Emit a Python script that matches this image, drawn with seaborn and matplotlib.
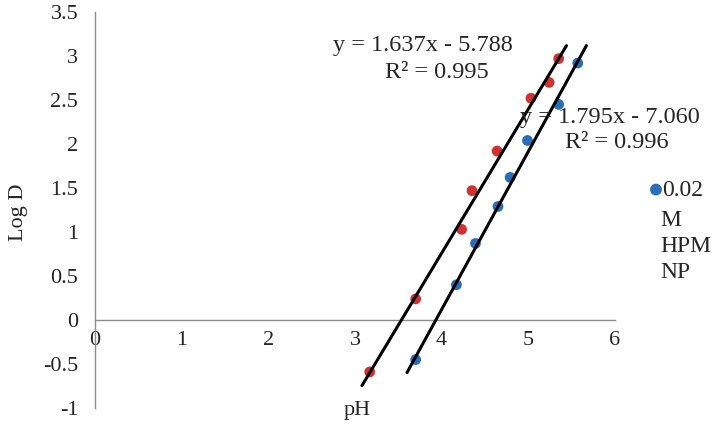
import numpy as np
import pandas as pd
import matplotlib
matplotlib.use('Agg')
import matplotlib.pyplot as plt
import seaborn as sns

# Dane
ph_red = [3.17, 3.70, 4.23, 4.35, 4.64, 5.03, 5.24, 5.35]
logd_red = [-0.59, 0.24, 1.03, 1.47, 1.92, 2.52, 2.70, 2.97]
ph_blue = [3.70, 4.17, 4.39, 4.65, 4.79, 4.99, 5.35, 5.57]
logd_blue = [-0.45, 0.40, 0.87, 1.29, 1.62, 2.04, 2.45, 2.92]

# Linie trendu (z równań na wykresie)
slope_red, icpt_red, r2_red = 1.637, -5.788, 0.995
slope_blue, icpt_blue, r2_blue = 1.795, -7.060, 0.996
xr_red = [3.08, 5.44]
xr_blue = [3.60, 5.67]

x_ticks = [0, 1, 2, 3, 4, 5, 6]
y_ticks = [-1, -0.5, 0, 0.5, 1, 1.5, 2, 2.5, 3, 3.5]
legend_lines = ['0.02', 'M', 'HPM', 'NP']

red = '#D03232'
blue = '#2C6DB8'
grey = '#8C8C8C'

sns.set_style('white')
plt.rcParams['font.family'] = ['Liberation Serif', 'DejaVu Serif']

df_red = pd.DataFrame({'pH': ph_red, 'LogD': logd_red})
df_blue = pd.DataFrame({'pH': ph_blue, 'LogD': logd_blue})
tr_red = pd.DataFrame({'pH': xr_red, 'LogD': [slope_red * x + icpt_red for x in xr_red]})
tr_blue = pd.DataFrame({'pH': xr_blue, 'LogD': [slope_blue * x + icpt_blue for x in xr_blue]})

fig = plt.figure(figsize=(7.2, 4.25), dpi=100)
ax = fig.add_axes([95 / 720, 17 / 425, 520 / 720, 396 / 425])

sns.scatterplot(data=df_red, x='pH', y='LogD', color=red, s=60, edgecolor='none', ax=ax, zorder=3)
sns.scatterplot(data=df_blue, x='pH', y='LogD', color=blue, s=60, edgecolor='none', ax=ax, zorder=3,
                label=legend_lines[0])
sns.lineplot(data=tr_red, x='pH', y='LogD', color='black', lw=2.2, ax=ax, zorder=4)
sns.lineplot(data=tr_blue, x='pH', y='LogD', color='black', lw=2.2, ax=ax, zorder=4)

ax.set_xlim(0, 6)
ax.set_ylim(-1, 3.5)
ax.set_xticks(x_ticks)
ax.set_yticks(y_ticks)
ax.set_yticklabels([f'{v:g}' for v in y_ticks])
ax.set_xlabel('')
ax.set_ylabel('')

for s in ['top', 'right']:
    ax.spines[s].set_visible(False)
ax.spines['bottom'].set_position(('data', 0))
for s in ['left', 'bottom']:
    ax.spines[s].set_color(grey)
    ax.spines[s].set_linewidth(1)
ax.tick_params(axis='x', direction='in', length=5, color=grey, pad=8, labelsize=16)
ax.tick_params(axis='y', direction='out', length=6, color=grey, pad=6, labelsize=16)

# Równania trendu
fs_eq = 17.5
fig.text(333 / 720, 1 - 45 / 425, f'y = {slope_red:.3f}x - {abs(icpt_red):.3f}', fontsize=fs_eq, va='center')
fig.text(385 / 720, 1 - 73 / 425, f'R² = {r2_red:.3f}', fontsize=fs_eq, va='center')
fig.text(520 / 720, 1 - 117 / 425, f'y = {slope_blue:.3f}x - {abs(icpt_blue):.3f}', fontsize=fs_eq, va='center')
fig.text(565 / 720, 1 - 143 / 425, f'R² = {r2_blue:.3f}', fontsize=fs_eq, va='center')

fig.text(357 / 720, 1 - 410 / 425, 'pH', fontsize=16, ha='center', va='center')
fig.text(18 / 720, 1 - 212 / 425, 'Log D', fontsize=16, ha='center', va='center', rotation=90)

# Legenda: znacznik przy pierwszej linii, reszta tekstu pod spodem
leg = ax.legend(loc='center left', bbox_to_anchor=(630 / 720, 1 - 190 / 425), bbox_transform=fig.transFigure,
                frameon=False, fontsize=17, handletextpad=-0.35, handlelength=1.2, borderpad=0,
                markerscale=1.1)
for i, line in enumerate(legend_lines[1:]):
    fig.text(660 / 720, 1 - (221 + 25.5 * i) / 425, line, fontsize=17, va='center')

fig.savefig('out.png', dpi=100)
